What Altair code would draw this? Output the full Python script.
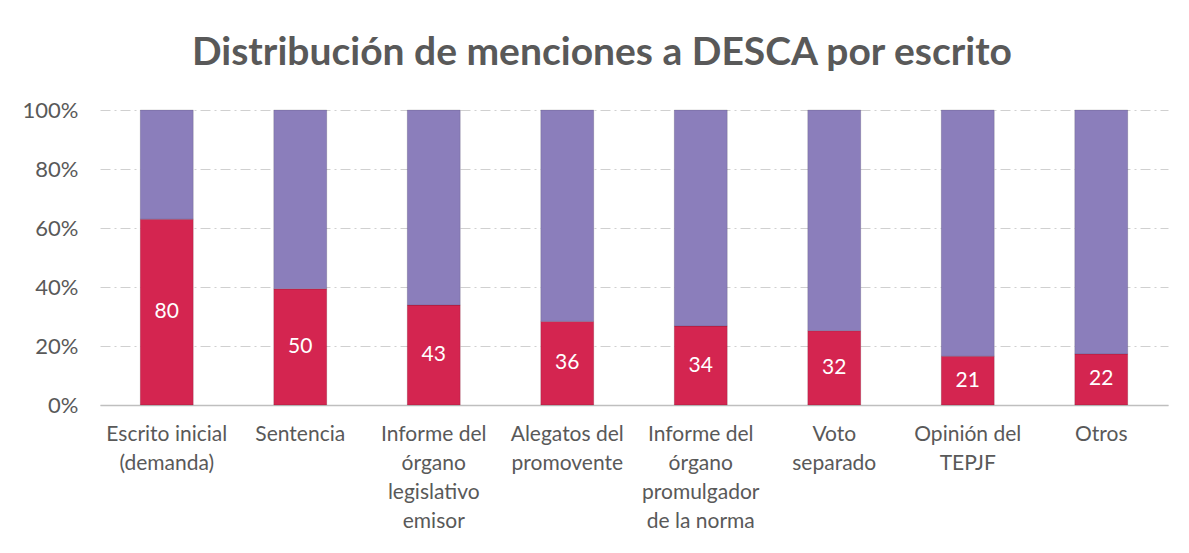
import altair as alt
import pandas as pd

categorias = [
    "Escrito inicial|(demanda)",
    "Sentencia",
    "Informe del|órgano|legislativo|emisor",
    "Alegatos del|promovente",
    "Informe del|órgano|promulgador|de la norma",
    "Voto|separado",
    "Opinión del|TEPJF",
    "Otros",
]
con_mencion = [80, 50, 43, 36, 34, 32, 21, 22]
sin_mencion = [47, 77, 84, 91, 93, 95, 106, 105]
y_ticks = [0, 0.2, 0.4, 0.6, 0.8, 1.0]

rows = []
for c, a, b in zip(categorias, con_mencion, sin_mencion):
    rows.append({"cat": c, "serie": "con", "valor": a, "ord": 1})
    rows.append({"cat": c, "serie": "sin", "valor": b, "ord": 2})
df = pd.DataFrame(rows)

FONT = "Lato"
GRAY = "#595959"

x_enc = alt.X(
    "cat:N",
    sort=categorias,
    title=None,
    scale=alt.Scale(paddingInner=0.6, paddingOuter=0.3),
    axis=alt.Axis(
        labelExpr="split(datum.label, '|')",
        labelAngle=0,
        labelFont=FONT,
        labelFontSize=21,
        labelColor=GRAY,
        labelLineHeight=29,
        labelPadding=18,
        labelBaseline="top",
        ticks=False,
        domainColor="#BFBFBF",
        domainWidth=1.5,
        grid=False,
        labelLimit=0,
    ),
)

bars = alt.Chart(df).mark_bar(size=53, stroke="#00000022", strokeWidth=1).encode(
    x=x_enc,
    y=alt.Y(
        "valor:Q",
        stack="normalize",
        title=None,
        scale=alt.Scale(domain=[0, 1]),
        axis=alt.Axis(
            values=y_ticks,
            format=".0%",
            labelFont=FONT,
            labelFontSize=22,
            labelColor=GRAY,
            labelPadding=22,
            ticks=False,
            domain=False,
            grid=True,
            gridColor="#D0D0D0",
            gridDash=[10, 4, 2, 4],
            gridWidth=1,
        ),
    ),
    color=alt.Color(
        "serie:N",
        scale=alt.Scale(domain=["con", "sin"], range=["#D42550", "#8B7EBB"]),
        legend=None,
    ),
    order=alt.Order("ord:Q"),
)

labels = (
    alt.Chart(df)
    .transform_joinaggregate(total="sum(valor)", groupby=["cat"])
    .transform_filter("datum.serie == 'con'")
    .transform_calculate(mid="datum.valor / datum.total / 2")
    .mark_text(font=FONT, fontSize=21, color="white", baseline="middle")
    .encode(x=alt.X("cat:N", sort=categorias), y=alt.Y("mid:Q"), text="valor:Q")
)

chart = (
    alt.layer(bars, labels)
    .properties(
        width=1068,
        height=295,
        padding={"left": 92, "top": 102, "right": 13, "bottom": 140},
        autosize=alt.AutoSizeParams(type="none"),
        view=alt.ViewBackground(stroke="transparent", strokeWidth=0),
        title=alt.TitleParams(
            "Distribución de menciones a DESCA por escrito",
            font=FONT,
            fontSize=39,
            fontWeight="bold",
            color=GRAY,
            anchor="middle",
            dx=-32,
            offset=26,
        ),
    )
    .configure_view(strokeWidth=0, stroke="transparent")
    .configure(background="white")
)

chart.save("out.html", embed_options={"renderer": "svg", "actions": False})
